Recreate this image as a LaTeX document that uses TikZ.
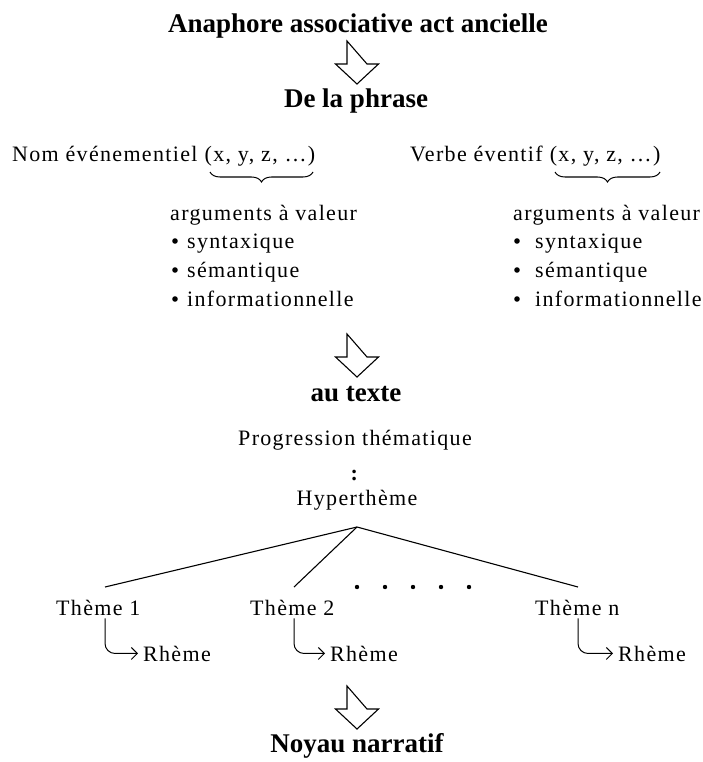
\documentclass[tikz,border=0pt]{standalone}
\usepackage{fontspec}
\setmainfont{Liberation Serif}
\newfontfamily\spacedserif[LetterSpace=6]{Liberation Serif}
\usetikzlibrary{arrows.meta,decorations.pathreplacing,calc}
\tikzset{
  title/.style={inner sep=0pt,anchor=base,font=\fontsize{27}{30}\selectfont\bfseries},
  txt/.style={inner sep=0pt,font=\spacedserif\fontsize{22}{25}\selectfont},
  ln/.style={line width=1.1pt},
  hook/.style={line width=1pt,rounded corners=10pt,-{Straight Barb[length=6pt,width=12pt,line width=1pt]}},
  brc/.style={line width=1pt,decorate,decoration={brace,amplitude=10pt,mirror}},
  pics/barrow/.style={code={\draw[line width=1.1pt,fill=white] (-10,0) -- (-10,23) -- (-21.5,23) -- (0,43) -- (21.5,23) -- (10,23) -- cycle;}}
}
\begin{document}
\begin{tikzpicture}[x=1pt,y=-1pt]
\useasboundingbox (0,0) rectangle (702,762);
% titles
\node[title] (t0) at (358,33) {Anaphore associative act ancielle};
\pic at (357,41) {barrow};
\node[title] (t1) at (356,108) {De la phrase};
% left
\node[txt,anchor=base west] (nom) at (12,162) {Nom événementiel};
\node[txt,anchor=base west] (argl) at (nom.base east) {\ (x, y, z, …)};
\node[txt,anchor=base west] (vbl) at (170,220) {arguments à valeur};
\node[txt,anchor=base west] (a1) at (187,248) {syntaxique};
\node[txt,anchor=base west] (a2) at (187,277) {sémantique};
\node[txt,anchor=base west] (a3) at (187,306) {informationnelle};
\foreach \n in {a1,a2,a3}{\fill ([xshift=-12pt,yshift=7pt]\n.base west) circle (2.8pt);}
\draw[brc] (210,172) -- (313,172);
% right
\node[txt,anchor=base west] (verbe) at (410,162) {Verbe éventif};
\node[txt,anchor=base west] (argr) at (verbe.base east) {\ (x, y, z, …)};
\node[txt,anchor=base west] (vbr) at (513,220) {arguments à valeur};
\node[txt,anchor=base west] (b1) at (535,248) {syntaxique};
\node[txt,anchor=base west] (b2) at (535,277) {sémantique};
\node[txt,anchor=base west] (b3) at (535,306) {informationnelle};
\foreach \n in {b1,b2,b3}{\fill ([xshift=-18pt,yshift=7pt]\n.base west) circle (2.8pt);}
\draw[brc] (555,172) -- (660,172);
% au texte
\pic at (357,334) {barrow};
\node[title] (t2) at (356,401) {au texte};
\node[txt,anchor=base] (prog) at (355,445) {Progression thématique};
\node[txt,anchor=base] (col) at (355,480) {\textbf{:}};
\node[txt,anchor=base] (hyp) at (357,505) {Hyperthème};
\coordinate (apex) at (357,527);
\coordinate (e1) at (105,587);
\coordinate (e2) at (294,587);
\coordinate (e3) at (578,587);
\draw[ln] (e1) -- (apex) -- (e3);
\draw[ln] (apex) -- (e2);
\foreach \x in {357,385,413,441,469}{\fill (\x,587) circle (2.2pt);}
\node[txt,anchor=base west] (th1) at (56,615) {Thème 1};
\node[txt,anchor=base west] (th2) at (250,615) {Thème 2};
\node[txt,anchor=base west] (thn) at (535,615) {Thème n};
\node[txt,anchor=base west] (r1) at (143,661) {Rhème};
\node[txt,anchor=base west] (r2) at (330,661) {Rhème};
\node[txt,anchor=base west] (rn) at (618,661) {Rhème};
\draw[hook] (th1.south -| e1) ++(0,3) |- ([xshift=-5pt]r1.west);
\draw[hook] (th2.south -| e2) ++(0,3) |- ([xshift=-5pt]r2.west);
\draw[hook] (thn.south -| e3) ++(0,3) |- ([xshift=-5pt]rn.west);
% noyau
\pic at (357,686) {barrow};
\node[title] (t3) at (357,752) {Noyau narratif};
\end{tikzpicture}
\end{document}
